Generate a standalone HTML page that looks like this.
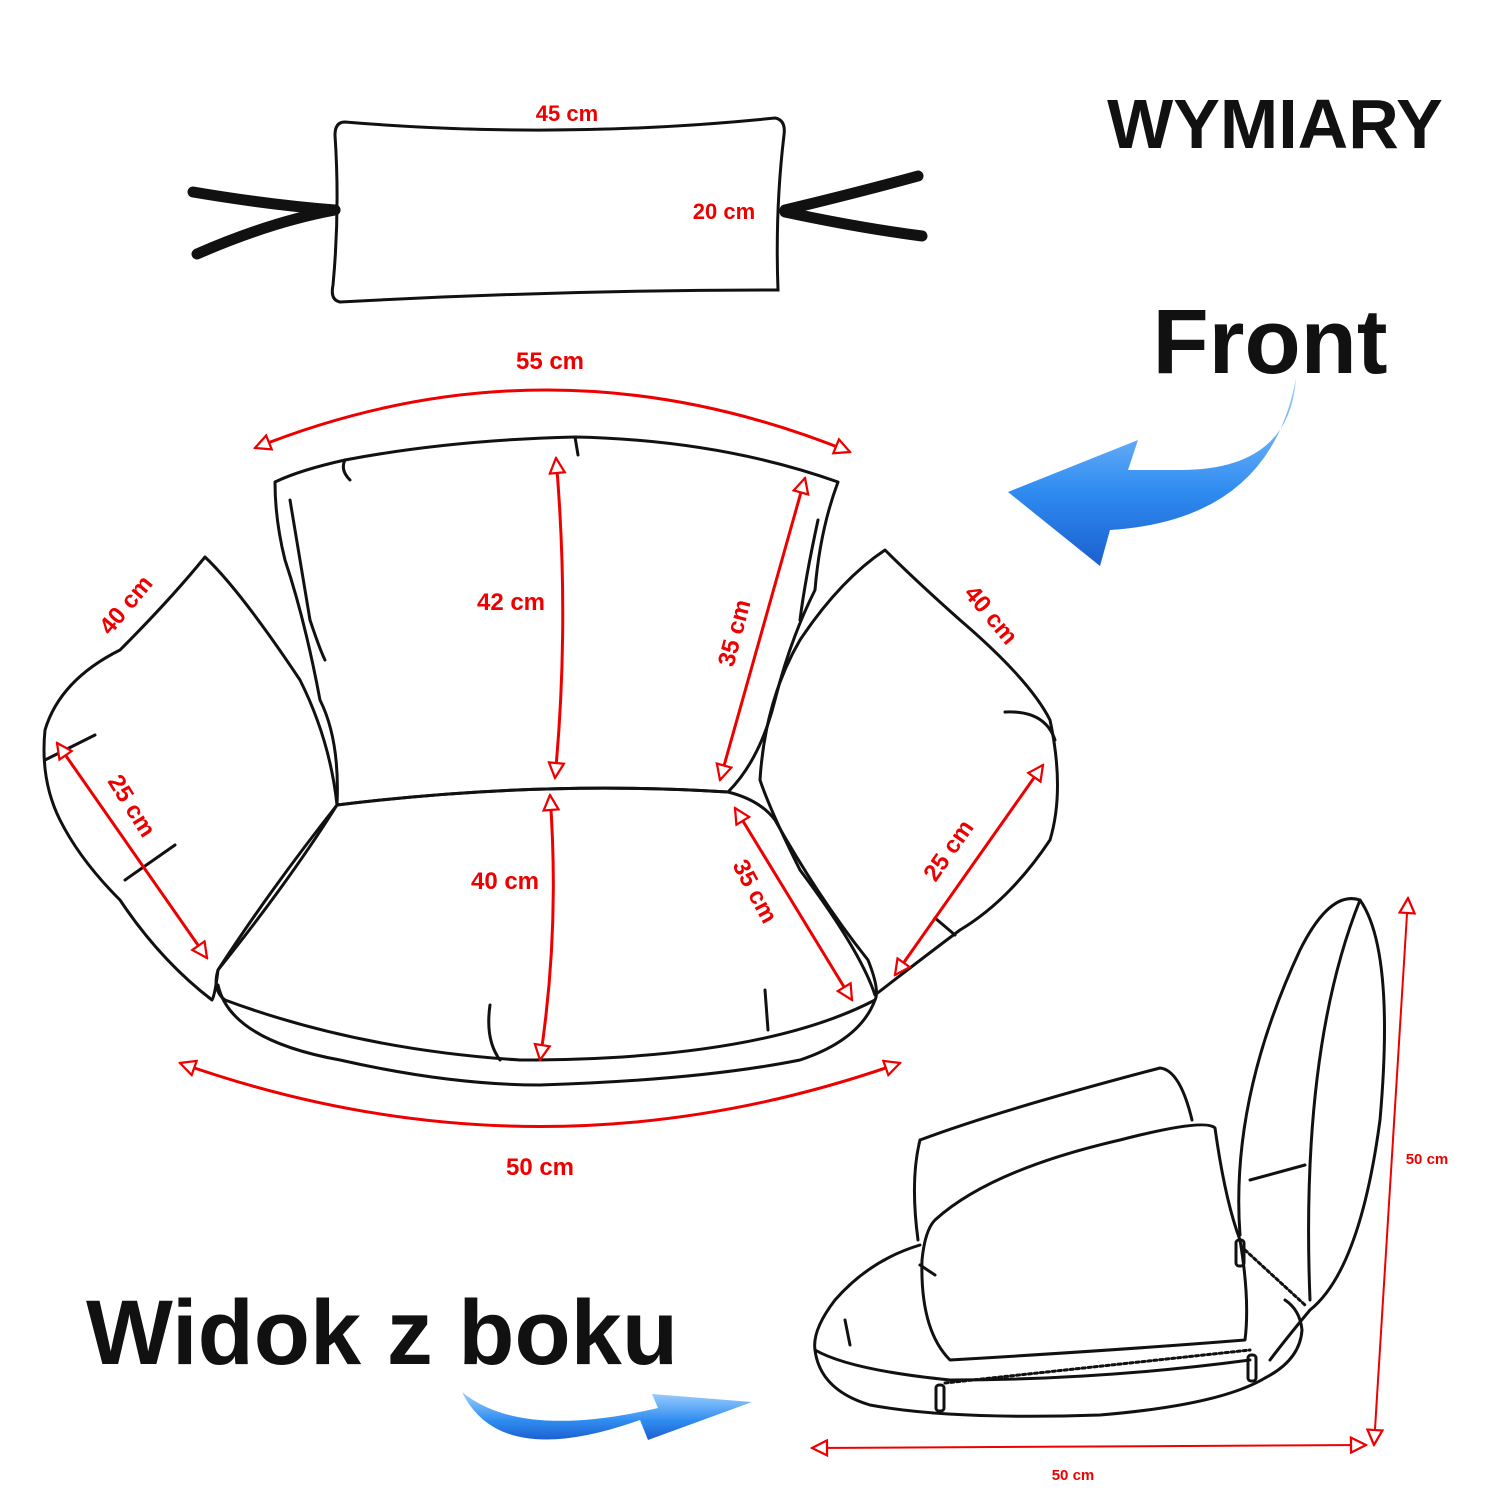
<!DOCTYPE html>
<html><head><meta charset="utf-8"><style>
html,body{margin:0;padding:0;background:#fff;}
svg{display:block;}
text{font-family:"Liberation Sans",sans-serif;}
</style></head><body>
<svg width="1500" height="1500" viewBox="0 0 1500 1500" xmlns="http://www.w3.org/2000/svg">
<defs>
<marker id="ah" viewBox="0 0 12 12" refX="11" refY="6" markerWidth="18" markerHeight="18" orient="auto-start-reverse" markerUnits="userSpaceOnUse">
<path d="M1,1 L11,6 L1,11 Z" fill="#fff" stroke="#e00" stroke-width="1.5"/></marker>
<linearGradient id="bl" x1="0" y1="0" x2="0" y2="1"><stop offset="0" stop-color="#9fd0ff"/><stop offset="0.6" stop-color="#2f8cf0"/><stop offset="1" stop-color="#1b5fd0"/></linearGradient>
</defs>
<rect width="1500" height="1500" fill="#fff"/>

<g fill="none" stroke="#111" stroke-width="3" stroke-linecap="round">
<path d="M345,122 Q560,140 775,118 Q786,120 784,135 Q775,210 778,290 Q560,290 340,302 Q330,300 333,285 Q340,210 335,135 Q335,122 345,122 Z"/>
</g>
<g stroke="#111" stroke-width="11" stroke-linecap="round" fill="none">
<path d="M193,192 Q270,205 335,210"/><path d="M197,254 Q270,222 335,210"/>
<path d="M785,210 Q860,192 918,176"/><path d="M785,212 Q860,228 922,236"/>
</g>
<g fill="#e00" font-weight="bold" font-size="22">
<text x="567" y="121" text-anchor="middle">45 cm</text>
<text x="724" y="219" text-anchor="middle">20 cm</text>
</g>

<text x="1275" y="148" text-anchor="middle" font-size="70" font-weight="bold" fill="#111">WYMIARY</text>
<text x="1270" y="373" text-anchor="middle" font-size="92" font-weight="bold" fill="#111">Front</text>
<text x="382" y="1364" text-anchor="middle" font-size="92" font-weight="bold" fill="#111">Widok z boku</text>

<path d="M1296,378 Q1290,470 1180,470 L1128,470 L1138,440 L1008,492 L1100,566 L1110,530 Q1270,520 1296,378 Z" fill="url(#bl)"/>
<path d="M462,1392 Q500,1470 640,1420 L648,1440 L752,1402 L652,1394 L658,1408 Q520,1440 462,1392 Z" fill="url(#bl)"/>

<g fill="none" stroke="#111" stroke-width="3" stroke-linecap="round" stroke-linejoin="round">
<path d="M275,482 Q300,470 345,460 Q450,440 575,437 Q720,440 838,482 Q820,530 815,590 Q790,640 775,700 Q760,760 728,792 Q540,780 337,805 Q340,740 320,700 Q305,620 285,560 Q275,520 275,482 Z"/>
<path d="M337,805 Q540,780 728,792 Q760,800 775,820 Q820,900 868,960 Q880,990 875,1000 Q760,1060 520,1060 Q360,1050 225,1000 Q212,990 218,970 Q270,890 337,805 Z"/>
<path d="M218,985 Q230,1040 340,1060 Q450,1085 540,1085 Q700,1080 800,1060 Q860,1040 875,1000"/>
<path d="M205,557 Q240,590 300,680 Q330,740 337,805 Q290,880 218,970 Q215,995 212,1000 Q160,960 120,900 Q80,860 60,820 Q40,780 45,730 Q60,680 120,650 Q170,600 205,557 Z"/>
<path d="M885,550 Q915,580 960,620 Q1030,680 1050,720 Q1065,790 1050,840 Q1010,900 960,930 Q920,960 875,995 Q860,950 800,870 Q770,810 760,780 Q765,700 800,640 Q840,580 885,550 Z"/>
<path d="M345,460 Q340,470 350,480"/><path d="M575,437 L578,455"/>
<path d="M290,500 Q300,560 310,620 Q320,650 325,660"/>
<path d="M818,520 Q805,580 800,620"/>
<path d="M490,1005 Q485,1040 500,1060"/><path d="M765,990 L768,1030"/>
<path d="M45,760 L95,735"/><path d="M125,880 L175,845"/>
<path d="M1005,712 Q1045,710 1055,740"/><path d="M935,918 L955,935"/>
</g>

<g fill="none" stroke="#e00" stroke-width="3" marker-start="url(#ah)" marker-end="url(#ah)">
<path d="M255,448 Q550,330 850,452"/>
<path d="M180,1063 Q540,1190 900,1063"/>
<path d="M556,458 Q570,620 555,778"/>
<path d="M550,795 Q560,930 540,1060"/>
<path d="M805,478 L720,780"/>
<path d="M735,808 L852,1000"/>
<path d="M57,743 L207,958"/>
<path d="M1043,765 L895,975"/>
</g>
<g fill="#e00" font-weight="bold" font-size="24">
<text x="550" y="369" text-anchor="middle">55 cm</text>
<text x="540" y="1175" text-anchor="middle">50 cm</text>
<text x="511" y="610" text-anchor="middle">42 cm</text>
<text x="505" y="889" text-anchor="middle">40 cm</text>
<text transform="translate(742,635) rotate(-75)" text-anchor="middle">35 cm</text>
<text transform="translate(748,895) rotate(62)" text-anchor="middle">35 cm</text>
<text transform="translate(132,610) rotate(-50)" text-anchor="middle">40 cm</text>
<text transform="translate(985,620) rotate(50)" text-anchor="middle">40 cm</text>
<text transform="translate(125,810) rotate(58)" text-anchor="middle">25 cm</text>
<text transform="translate(955,855) rotate(-55)" text-anchor="middle">25 cm</text>
</g>

<g fill="none" stroke="#111" stroke-width="3" stroke-linecap="round" stroke-linejoin="round">
<path d="M1240,1235 Q1230,1100 1300,950 Q1330,890 1360,900 Q1395,950 1380,1120 Q1360,1270 1310,1310 Q1285,1340 1270,1360"/>
<path d="M1360,900 Q1300,1050 1310,1300"/>
<path d="M920,1140 Q1000,1110 1160,1068 Q1180,1070 1192,1120"/>
<path d="M920,1140 Q910,1180 918,1240"/>
<path d="M935,1220 Q990,1170 1120,1140 Q1205,1118 1215,1128 Q1225,1200 1240,1240 Q1250,1300 1245,1340 Q1120,1350 950,1360 Q920,1330 922,1260 Q925,1230 935,1220 Z"/>
<path d="M920,1245 Q870,1260 835,1300 Q812,1330 815,1350 Q820,1390 870,1405 Q950,1420 1100,1415 Q1220,1405 1265,1378 Q1300,1360 1302,1330 Q1300,1310 1285,1300"/>
<path d="M815,1350 Q850,1370 950,1380 Q1100,1380 1250,1360"/>
<path d="M845,1320 L850,1345"/><path d="M920,1265 L935,1275"/>
<path d="M1250,1180 L1305,1165"/>
<path d="M945,1383 L1250,1350" stroke-dasharray="3 3"/>
<path d="M1245,1250 L1305,1305" stroke-dasharray="3 3"/>
<rect x="936" y="1385" width="8" height="26" rx="3"/>
<rect x="1248" y="1355" width="8" height="26" rx="3"/>
<rect x="1236" y="1240" width="8" height="26" rx="3"/>
</g>
<g fill="none" stroke="#e00" stroke-width="2" marker-start="url(#ah)" marker-end="url(#ah)">
<path d="M1408,898 L1374,1445"/>
<path d="M812,1448 L1366,1445"/>
</g>
<g fill="#e00" font-weight="bold" font-size="15">
<text x="1427" y="1164" text-anchor="middle">50 cm</text>
<text x="1073" y="1480" text-anchor="middle">50 cm</text>
</g>
</svg>
</body></html>
